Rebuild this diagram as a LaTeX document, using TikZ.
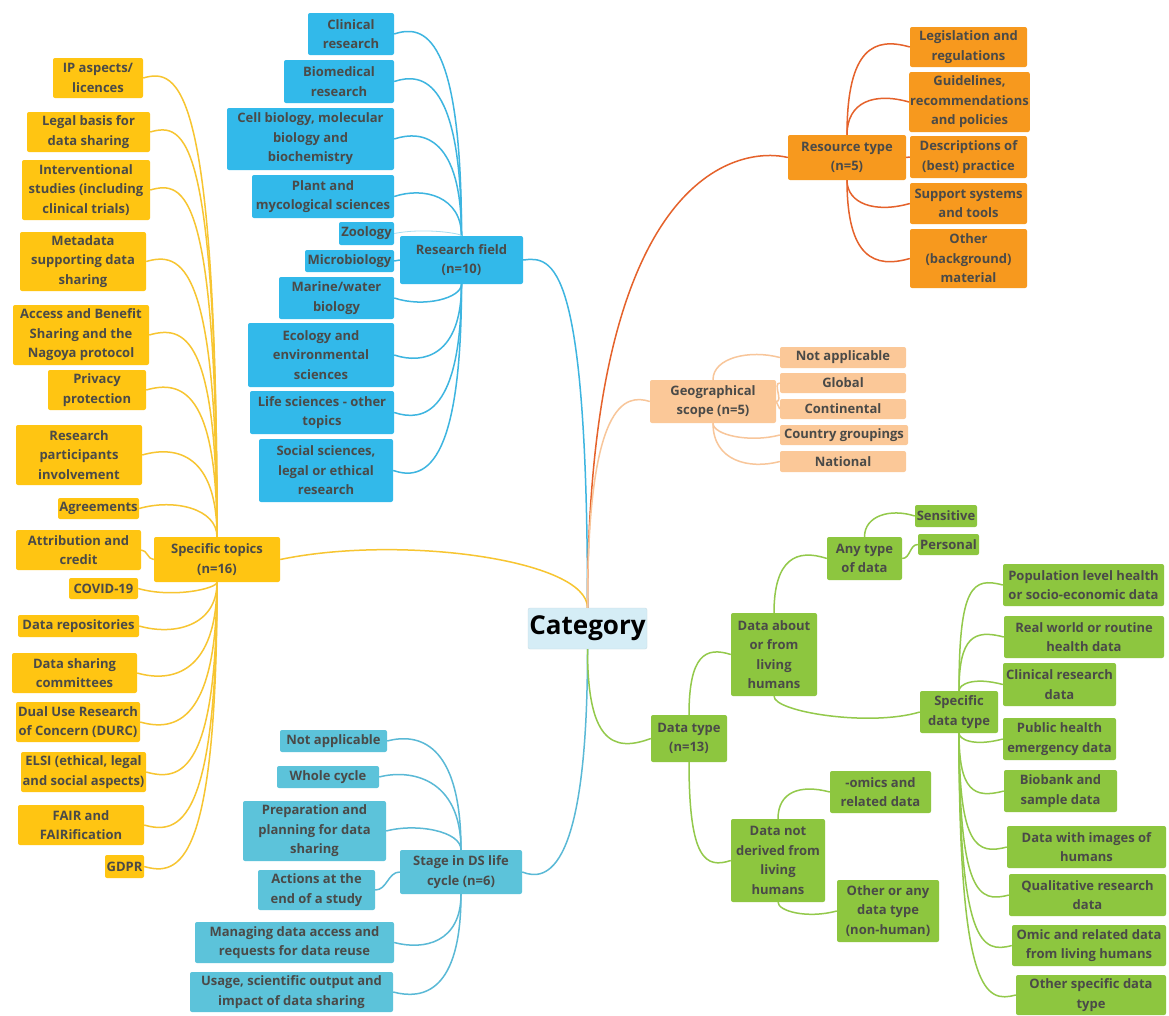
\documentclass[tikz,border=0pt]{standalone}
\usepackage{fontspec}
\setmainfont{Open Sans}
\usetikzlibrary{calc}
\definecolor{yF}{HTML}{FFC512}
\definecolor{yL}{HTML}{F7C531}
\definecolor{bF}{HTML}{32B9EA}
\definecolor{bL}{HTML}{3DB5E0}
\definecolor{sF}{HTML}{5CC3DA}
\definecolor{sL}{HTML}{5AB9D6}
\definecolor{oF}{HTML}{F7991E}
\definecolor{oL}{HTML}{E5622B}
\definecolor{pF}{HTML}{FBC898}
\definecolor{pL}{HTML}{F8C69A}
\definecolor{gF}{HTML}{8DC63F}
\definecolor{gL}{HTML}{93C94B}
\definecolor{cF}{HTML}{D5EDF6}
\definecolor{txt}{HTML}{4A4A48}
\tikzset{
  box/.style={rounded corners=2pt, inner sep=1pt, align=center, text=txt,
    font=\fontsize{13}{19.5}\selectfont\bfseries},
  ybox/.style={box, fill=yF},
  bbox/.style={box, fill=bF},
  sbox/.style={box, fill=sF},
  obox/.style={box, fill=oF},
  pbox/.style={box, fill=pF},
  gbox/.style={box, fill=gF},
  cbox/.style={rounded corners=2pt, fill=cF, draw=cF!85!gray, inner sep=1pt, text=black,
    font=\fontsize{26}{30}\selectfont\bfseries},
  yl/.style={draw=yL, line width=1.5pt},
  bl/.style={draw=bL, line width=1.5pt},
  sl/.style={draw=sL, line width=1.5pt},
  ol/.style={draw=oL, line width=1.5pt},
  pl/.style={draw=pL, line width=1.5pt},
  gl/.style={draw=gL, line width=1.5pt},
}
\newcommand\bx[7]{\node[#6, minimum width={#4-#2}, minimum height={#5-#3}] (#1) at ({(#2+#4)/2},{(#3+#5)/2}) {#7};}
\newcommand\cnx[5]{\draw[#1] let \p1=(#2), \p2=(#3) in (\p1) .. controls ({\x1+(#4pt)},{\y1+(#5pt)}) and (\x2,\y1) .. (\p2);}
\begin{document}
\begin{tikzpicture}[x=1pt,y=-1pt]
\useasboundingbox (0,0) rectangle (1169,1015);
\fill[white] (0,0) rectangle (1169,1015);

% ---------- connectors drawn first (behind boxes) are placed after nodes via layers-free ordering ----------
% Yellow
\bx{ip}{53}{58}{143}{98}{ybox}{IP aspects/\\licences}
\bx{legal}{27}{112}{150}{152}{ybox}{Legal basis for\\data sharing}
\bx{interv}{22}{160}{150}{220}{ybox}{Interventional\\studies (including\\clinical trials)}
\bx{meta}{20}{232}{146}{291}{ybox}{Metadata\\supporting data\\sharing}
\bx{abs}{13}{305}{149}{365}{ybox}{Access and Benefit\\Sharing and the\\Nagoya protocol}
\bx{priv}{48}{370}{146}{410}{ybox}{Privacy\\protection}
\bx{rpi}{16}{425}{142}{485}{ybox}{Research\\participants\\involvement}
\bx{agr}{58}{498}{139}{519}{ybox}{Agreements}
\bx{attr}{16}{530}{141}{570}{ybox}{Attribution and\\credit}
\bx{spec}{154}{537}{280}{582}{ybox}{Specific topics\\(n=16)}
\bx{covid}{69}{578}{138}{599}{ybox}{COVID-19}
\bx{repo}{18}{615}{139}{637}{ybox}{Data repositories}
\bx{dsc}{12}{653}{137}{693}{ybox}{Data sharing\\committees}
\bx{durc}{16}{702}{140}{742}{ybox}{Dual Use Research\\of Concern (DURC)}
\bx{elsi}{21}{752}{146}{792}{ybox}{ELSI (ethical, legal\\and social aspects)}
\bx{fair}{18}{805}{144}{845}{ybox}{FAIR and\\FAIRification}
\bx{gdpr}{105}{855}{144}{878}{ybox}{GDPR}

% Research field
\bx{clin}{308}{13}{394}{55}{bbox}{Clinical\\research}
\bx{biomed}{284}{60}{394}{103}{bbox}{Biomedical\\research}
\bx{cell}{227}{108}{394}{170}{bbox}{Cell biology, molecular\\biology and\\biochemistry}
\bx{plant}{252}{175}{394}{218}{bbox}{Plant and\\mycological sciences}
\bx{zoo}{339}{222}{394}{245}{bbox}{Zoology}
\bx{micro}{305}{250}{394}{272}{bbox}{Microbiology}
\bx{marine}{279}{277}{394}{319}{bbox}{Marine/water\\biology}
\bx{eco}{248}{323}{394}{387}{bbox}{Ecology and\\environmental\\sciences}
\bx{life}{250}{391}{394}{434}{bbox}{Life sciences - other\\topics}
\bx{social}{259}{439}{393}{502}{bbox}{Social sciences,\\legal or ethical\\research}
\bx{rf}{400}{236}{523}{284}{bbox}{Research field\\(n=10)}

% Stage
\bx{sna}{280}{730}{387}{752}{sbox}{Not applicable}
\bx{whole}{277}{766}{379}{788}{sbox}{Whole cycle}
\bx{prep}{243}{801}{386}{861}{sbox}{Preparation and\\planning for data\\sharing}
\bx{act}{258}{870}{375}{910}{sbox}{Actions at the\\end of a study}
\bx{manage}{195}{922}{394}{963}{sbox}{Managing data access and\\requests for data reuse}
\bx{usage}{190}{972}{393}{1012}{sbox}{Usage, scientific output and\\impact of data sharing}
\bx{stage}{400}{850}{522}{894}{sbox}{Stage in DS life\\cycle (n=6)}

% Resource type
\bx{leg}{910}{27}{1027}{67}{obox}{Legislation and\\regulations}
\bx{guide}{910}{72}{1029}{132}{obox}{Guidelines,\\recommendations\\and policies}
\bx{desc}{910}{136}{1027}{178}{obox}{Descriptions of\\(best) practice}
\bx{supp}{910}{183}{1027}{224}{obox}{Support systems\\and tools}
\bx{other}{910}{229}{1027}{288}{obox}{Other\\(background)\\material}
\bx{rt}{788}{135}{906}{180}{obox}{Resource type\\(n=5)}

% Geographical
\bx{gna}{780}{347}{906}{368}{pbox}{Not applicable}
\bx{glob}{780}{373}{906}{393}{pbox}{Global}
\bx{cont}{780}{399}{906}{419}{pbox}{Continental}
\bx{cgrp}{780}{425}{908}{445}{pbox}{Country groupings}
\bx{nat}{780}{451}{906}{472}{pbox}{National}
\bx{geo}{650}{380}{776}{423}{pbox}{Geographical\\scope (n=5)}

% Data type
\bx{sens}{915}{505}{977}{527}{gbox}{Sensitive}
\bx{pers}{918}{534}{979}{555}{gbox}{Personal}
\bx{any}{827}{537}{902}{580}{gbox}{Any type\\of data}
\bx{dah}{731}{613}{817}{696}{gbox}{Data about\\or from\\living\\humans}
\bx{sdt}{920}{691}{998}{733}{gbox}{Specific\\data type}
\bx{pop}{1003}{564}{1164}{606}{gbox}{Population level health\\or socio-economic data}
\bx{real}{1004}{616}{1164}{658}{gbox}{Real world or routine\\health data}
\bx{crd}{1003}{663}{1116}{706}{gbox}{Clinical research\\data}
\bx{phe}{1003}{718}{1116}{760}{gbox}{Public health\\emergency data}
\bx{bio}{1004}{770}{1117}{812}{gbox}{Biobank and\\sample data}
\bx{img}{1007}{826}{1166}{868}{gbox}{Data with images of\\humans}
\bx{qual}{1009}{874}{1166}{916}{gbox}{Qualitative research\\data}
\bx{omic}{1012}{925}{1166}{966}{gbox}{Omic and related data\\from living humans}
\bx{oth}{1016}{975}{1166}{1015}{gbox}{Other specific data\\type}
\bx{omics}{830}{771}{931}{813}{gbox}{-omics and\\related data}
\bx{dnd}{731}{819}{825}{902}{gbox}{Data not\\derived from\\living\\humans}
\bx{oany}{837}{880}{939}{942}{gbox}{Other or any\\data type\\(non-human)}
\bx{dt}{651}{715}{727}{762}{gbox}{Data type\\(n=13)}

\bx{cat}{528}{608}{647}{649}{cbox}{Category}

% ---------- connectors ----------
% main branches
\cnx{bl}{rf.east}{cat.north}{30}{4}
\cnx{yl}{spec.east}{cat.north}{120}{25}
\cnx{ol}{rt.west}{cat.north}{-40}{10}
\cnx{pl}{geo.west}{cat.north}{-25}{8}
\cnx{sl}{stage.east}{cat.south}{25}{-10}
\cnx{gl}{dt.west}{cat.south}{-40}{-15}

% specific topics
\foreach \c in {ip,legal,interv,meta,abs,priv,rpi,agr}{\cnx{yl}{\c.east}{spec.north}{35}{10}}
\foreach \c in {covid,repo,dsc,durc,elsi,fair,gdpr}{\cnx{yl}{\c.east}{spec.south}{35}{-10}}
\draw[yl] (attr.east) to[out=0,in=180] (spec.west);

% research field
\foreach \c in {clin,biomed,cell,plant}{\cnx{bl}{\c.east}{rf.north}{30}{10}}
\cnx{draw=bL!45, line width=0.8pt}{zoo.east}{rf.north}{30}{6}
\draw[bl] (micro.east) -- (rf.west);
\foreach \c in {marine,eco,life,social}{\cnx{bl}{\c.east}{rf.south}{30}{-10}}

% stage
\foreach \c in {sna,whole,prep}{\cnx{sl}{\c.east}{stage.north}{30}{8}}
\draw[sl] (act.east) to[out=0,in=180] (stage.west);
\foreach \c in {manage,usage}{\cnx{sl}{\c.east}{stage.south}{30}{-8}}

% resource type
\foreach \c in {leg,guide}{\cnx{ol}{\c.west}{rt.north}{-35}{10}}
\draw[ol] (desc.west) -- (rt.east);
\foreach \c in {supp,other}{\cnx{ol}{\c.west}{rt.south}{-35}{-10}}

% geographical
\cnx{pl}{gna.west}{geo.north}{-30}{8}
\draw[pl] (glob.west) to[out=180,in=0] (geo.east);
\draw[pl] (cont.west) -- (geo.east);
\foreach \c in {cgrp,nat}{\cnx{pl}{\c.west}{geo.south}{-30}{-8}}

% data type
\cnx{gl}{dah.west}{dt.north}{-25}{8}
\cnx{gl}{dnd.west}{dt.south}{-25}{-8}
\cnx{gl}{any.west}{dah.north}{-30}{10}
\cnx{gl}{sdt.west}{dah.south}{-50}{-15}
\cnx{gl}{sens.west}{any.north}{-25}{8}
\draw[gl] (pers.west) to[out=180,in=0] (any.east);
\foreach \c in {pop,real,crd}{\cnx{gl}{\c.west}{sdt.north}{-30}{8}}
\foreach \c in {phe,bio,img,qual,omic,oth}{\cnx{gl}{\c.west}{sdt.south}{-30}{-8}}
\cnx{gl}{omics.west}{dnd.north}{-30}{8}
\cnx{gl}{oany.west}{dnd.south}{-30}{-8}
\end{tikzpicture}
\end{document}
